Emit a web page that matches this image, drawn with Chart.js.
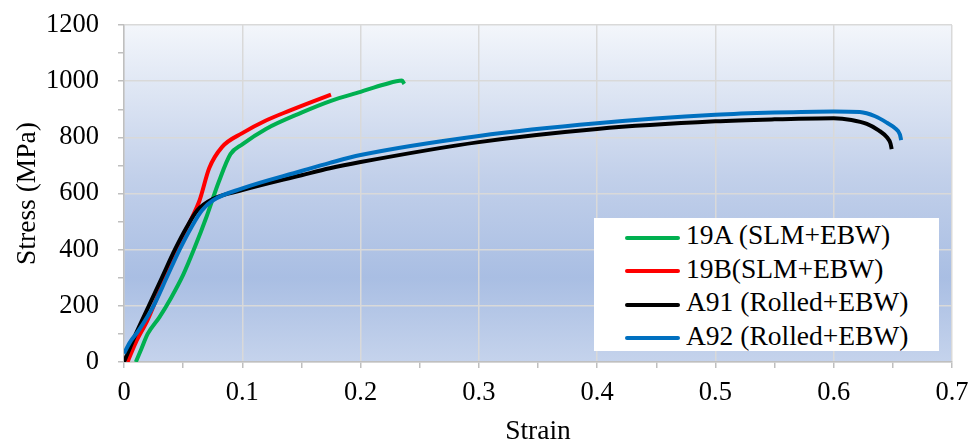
<!DOCTYPE html>
<html>
<head>
  <meta charset="utf-8" />
  <title>Stress-strain</title>
  <style>
    body { margin: 0; background: #fff; }
    #wrap { position: relative; width: 968px; height: 448px; }
    #legend {
      position: absolute; left: 594px; top: 218px; width: 345px; height: 133px;
      background: #fff; font-family: "Liberation Serif", serif; font-size: 27.5px; color: #000;
      box-sizing: border-box; padding-top: 0px;
    }
    #legend div { height: 33.5px; line-height: 33.5px; white-space: nowrap; }
    #legend span { display: inline-block; width: 55px; height: 4px; margin: 0 6px 0 31px; vertical-align: middle; border-radius: 2px; }
  </style>
</head>
<body>
  <div id="wrap">
    <canvas id="stage"></canvas>
    <div id="legend"></div>
  </div>

  <script src="https://cdn.jsdelivr.net/npm/chart.js@4.4.0/dist/chart.umd.min.js"></script>
  <script>
    // 各試験片の応力-ひずみ曲線 [strain, stress(MPa)]
    const names = ['19A (SLM+EBW)', '19B(SLM+EBW)', 'A91 (Rolled+EBW)', 'A92 (Rolled+EBW)'];
    const colors = ['#00b050', '#ff0000', '#000000', '#0070c0'];

    const s19A = [[0.010,0],[0.015,50],[0.020,100],[0.030,160],[0.040,230],[0.050,310],[0.060,410],[0.070,520],
      [0.080,640],[0.090,740],[0.100,775],[0.120,830],[0.150,888],[0.175,930],[0.200,962],[0.220,988],[0.235,1002],[0.237,990]];
    const s19B = [[0.003,0],[0.010,70],[0.020,150],[0.030,250],[0.040,350],[0.050,450],[0.057,510],[0.064,577],
      [0.072,690],[0.083,766],[0.100,815],[0.120,860],[0.140,895],[0.160,928],[0.175,952]];
    const sA91 = [[0,0],[0.003,30],[0.010,100],[0.021,200],[0.032,300],[0.043,400],[0.053,480],[0.062,540],
      [0.075,580],[0.100,612],[0.150,665],[0.174,690],[0.200,712],[0.300,783],[0.400,830],[0.500,857],[0.550,864],
      [0.600,868],[0.615,862],[0.628,848],[0.638,825],[0.645,800],[0.648,778],[0.649,758]];
    const sA92 = [[0,30],[0.005,70],[0.012,110],[0.025,200],[0.036,300],[0.047,400],[0.057,480],[0.066,540],
      [0.075,575],[0.100,618],[0.150,680],[0.174,709],[0.200,737],[0.300,805],[0.400,850],[0.500,880],[0.550,888],
      [0.600,892],[0.622,890],[0.635,875],[0.645,852],[0.652,832],[0.656,810],[0.657,790]];
    const series = [s19A, s19B, sA91, sA92];

    const xMax = 0.7, yMax = 1200;
    const serif = 'Liberation Serif';
    const fs = 27.5, tfs = 26.5;

    // プロットエリアのグラデーション
    const bgPlugin = {
      id: 'bg',
      beforeDraw(chart) {
        const a = chart.chartArea, ctx = chart.ctx;
        const g = ctx.createLinearGradient(0, a.top, 0, a.bottom);
        g.addColorStop(0, '#f3f6fb');
        g.addColorStop(0.45, '#c2d0ea');
        g.addColorStop(0.75, '#a9bee3');
        g.addColorStop(1, '#c5d3ec');
        ctx.save();
        ctx.fillStyle = g;
        ctx.fillRect(a.left, a.top, a.right - a.left, a.bottom - a.top);
        ctx.restore();
      }
    };

    const datasets = series.map((s, i) => ({
      label: names[i],
      data: s.map(p => ({ x: p[0], y: p[1] })),
      borderColor: colors[i],
      borderWidth: 4,
      pointRadius: 0,
      cubicInterpolationMode: 'monotone',
      order: 3 - i
    }));

    new Chart(document.getElementById('stage'), {
      type: 'line',
      data: { datasets },
      plugins: [bgPlugin],
      options: {
        responsive: true,
        maintainAspectRatio: false,
        animation: false,
        layout: { padding: { left: 0, right: 16, top: 25, bottom: 0 } },
        plugins: { legend: { display: false }, tooltip: { enabled: false } },
        scales: {
          x: {
            type: 'linear', min: 0, max: xMax,
            border: { color: '#bfbfbf', width: 1.5 },
            grid: {
              color: c => (Math.round(c.tick.value * 100) % 10 === 0 ? '#d9d9d9' : 'rgba(0,0,0,0)'),
              tickColor: '#bfbfbf', tickLength: 6, lineWidth: 1.5
            },
            ticks: {
              stepSize: 0.05, autoSkip: false, maxRotation: 0, padding: 9,
              color: '#000', font: { family: serif, size: tfs },
              callback: v => (Math.round(v * 100) % 10 === 0 ? String(Math.round(v * 10) / 10) : '')
            },
            title: { display: true, text: 'Strain', color: '#000', font: { family: serif, size: fs }, padding: { top: 0, bottom: 0 } },
            afterFit(s) { s.height = 86; s.paddingLeft = 0; s.paddingRight = 0; }
          },
          y: {
            min: 0, max: yMax,
            border: { color: '#bfbfbf', width: 1.5 },
            grid: {
              color: c => (c.tick.value % 200 === 0 ? '#d9d9d9' : 'rgba(0,0,0,0)'),
              tickColor: '#bfbfbf', tickLength: 6, lineWidth: 1.5
            },
            ticks: {
              stepSize: 100, autoSkip: false, padding: 19,
              color: '#000', font: { family: serif, size: tfs },
              callback: v => (v % 200 === 0 ? String(v) : '')
            },
            title: { display: true, text: 'Stress (MPa)', color: '#000', font: { family: serif, size: fs }, padding: { top: 11, bottom: 0 } },
            afterFit(s) { s.width = 124; s.paddingTop = 0; s.paddingBottom = 0; }
          }
        }
      }
    });

    // 凡例（プロット内に配置）
    const lg = document.getElementById('legend');
    names.forEach((n, i) => {
      const row = document.createElement('div');
      const sw = document.createElement('span');
      sw.style.background = colors[i];
      row.appendChild(sw);
      row.appendChild(document.createTextNode(n));
      lg.appendChild(row);
    });
  </script>
</body>
</html>
